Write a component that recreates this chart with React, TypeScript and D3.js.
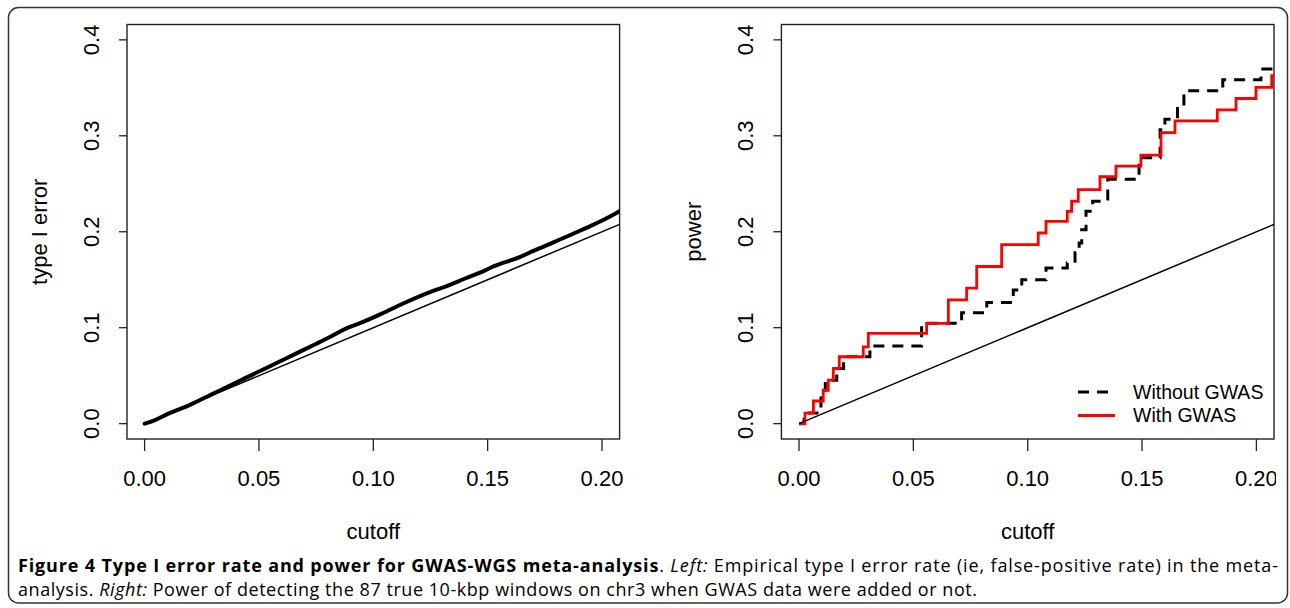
import React from 'react';
import * as d3 from 'd3';

// left panel: empirical type I error vs cutoff
const errCutoff = [0, 0.0043, 0.0104, 0.0194, 0.030, 0.0405, 0.0495, 0.0586, 0.0646, 0.0751, 0.0812, 0.0887, 0.0947, 0.1037, 0.1128, 0.1248, 0.1309, 0.1399, 0.1489, 0.1519, 0.164, 0.170, 0.179, 0.1911, 0.2031, 0.2077];
const errRate = [0, 0.0035, 0.0104, 0.0191, 0.0313, 0.0434, 0.0538, 0.0642, 0.0712, 0.0833, 0.0905, 0.0998, 0.1052, 0.1146, 0.125, 0.1372, 0.1424, 0.151, 0.1597, 0.1632, 0.1735, 0.1800, 0.1892, 0.2018, 0.2153, 0.2215];

// right panel: power, step curves
const withCutoff = [0, 0.0026, 0.0063, 0.0106, 0.0128, 0.0150, 0.0176, 0.0281, 0.0303, 0.0558, 0.0653, 0.0733, 0.0777, 0.0886, 0.1046, 0.108, 0.1173, 0.1192, 0.1221, 0.1316, 0.1386, 0.1495, 0.1583, 0.1644, 0.1829, 0.1911, 0.1998, 0.2067, 0.2077];
const withPower = [0, 0.011, 0.0236, 0.0348, 0.0453, 0.0575, 0.0697, 0.0801, 0.0941, 0.1046, 0.129, 0.1412, 0.1638, 0.1865, 0.1987, 0.2109, 0.2213, 0.2318, 0.244, 0.2573, 0.2684, 0.2799, 0.3033, 0.3155, 0.327, 0.3389, 0.3504, 0.3626, 0.3626];
const withoutCutoff = [0, 0.0022, 0.0096, 0.0115, 0.0165, 0.0195, 0.031, 0.0536, 0.0711, 0.0821, 0.0937, 0.0974, 0.108, 0.1173, 0.1207, 0.1225, 0.1236, 0.1255, 0.1284, 0.135, 0.1487, 0.1579, 0.160, 0.1655, 0.1683, 0.1853, 0.202, 0.2077];
const withoutPower = [0, 0.011, 0.0348, 0.0453, 0.0575, 0.0697, 0.0809, 0.1046, 0.1157, 0.1262, 0.1394, 0.1499, 0.1621, 0.1674, 0.178, 0.1883, 0.2022, 0.2213, 0.2318, 0.2546, 0.2772, 0.3062, 0.3173, 0.3285, 0.3469, 0.3584, 0.3696, 0.3696];

const diagonal = [0, 0.2077];

const xTicks = [0, 0.05, 0.1, 0.15, 0.2];
const yTicks = [0, 0.1, 0.2, 0.3, 0.4];

const legendLabels = ['Without GWAS', 'With GWAS'];

const W = 1290;
const H = 608;
const top = 24.5;
const bottom = 439;
const panelW = 492.6;
const font = 'Liberation Sans, Arial, Helvetica, sans-serif';

const Panel = ({ x0, ylab, children }) => {
  const x = d3.scaleLinear().domain([-0.0077, 0.2077]).range([x0, x0 + panelW]);
  const y = d3.scaleLinear().domain([-0.016, 0.416]).range([bottom, top]);
  return (
    <g>
      <rect x={x0} y={top} width={panelW} height={bottom - top} fill="none" stroke="#222" strokeWidth={1.4} />
      {xTicks.map(t => (
        <g key={'x' + t}>
          <line x1={x(t)} x2={x(t)} y1={bottom} y2={bottom + 12} stroke="#222" strokeWidth={1.3} />
          <text x={x(t)} y={486} textAnchor="middle" fontSize={22} fontFamily={font}>{t.toFixed(2)}</text>
        </g>
      ))}
      {yTicks.map(t => (
        <g key={'y' + t}>
          <line x1={x0 - 8} x2={x0} y1={y(t)} y2={y(t)} stroke="#222" strokeWidth={1.3} />
          <text transform={`translate(${x0 - 28},${y(t)}) rotate(-90)`} textAnchor="middle" fontSize={22} fontFamily={font}>{t.toFixed(1)}</text>
        </g>
      ))}
      <text x={x0 + panelW / 2} y={539} textAnchor="middle" fontSize={22} fontFamily={font}>cutoff</text>
      <text transform={`translate(${x0 - 80},${(top + bottom) / 2}) rotate(-90)`} textAnchor="middle" fontSize={22} fontFamily={font}>{ylab}</text>
      <defs>
        <clipPath id={'plot' + x0}>
          <rect x={x0} y={top} width={panelW} height={bottom - top} />
        </clipPath>
      </defs>
      <g clipPath={`url(#plot${x0})`}>{children(x, y)}</g>
    </g>
  );
};

export default function App() {
  const leftX0 = 127;
  const rightX0 = 781.4;

  return (
    <svg width={W} height={H} style={{ position: 'absolute', left: 0, top: 0, background: '#fff' }}>
      <rect x={8.5} y={7.5} width={1279} height={595.5} rx={10} fill="#fff" stroke="#333" strokeWidth={1.5} />
      <defs>
        <clipPath id="figcrop">
          <rect x={0} y={0} width={1276} height={550} />
        </clipPath>
      </defs>
      <g clipPath="url(#figcrop)">
        <Panel x0={leftX0} ylab="type I error">
          {(x, y) => {
            const line = d3.line().x(d => x(d[0])).y(d => y(d[1])).curve(d3.curveMonotoneX);
            return (
              <g>
                <path d={line(diagonal.map(v => [v, v]))} fill="none" stroke="#000" strokeWidth={1.5} />
                <path d={line(errCutoff.map((c, i) => [c, errRate[i]]))} fill="none" stroke="#000" strokeWidth={4} strokeLinejoin="round" strokeLinecap="round" />
              </g>
            );
          }}
        </Panel>
        <Panel x0={rightX0} ylab="power">
          {(x, y) => {
            const line = d3.line().x(d => x(d[0])).y(d => y(d[1]));
            const step = d3.line().x(d => x(d[0])).y(d => y(d[1])).curve(d3.curveStepAfter);
            return (
              <g>
                <path d={step(withoutCutoff.map((c, i) => [c, withoutPower[i]]))} fill="none" stroke="#000" strokeWidth={3} strokeDasharray="11 8" />
                <path d={step(withCutoff.map((c, i) => [c, withPower[i]]))} fill="none" stroke="#ff0000" strokeWidth={2.8} />
                <path d={line(diagonal.map(v => [v, v]))} fill="none" stroke="#000" strokeWidth={1.5} />
              </g>
            );
          }}
        </Panel>
        <g fontFamily={font} fontSize={19.5}>
          <line x1={1078} x2={1113} y1={392} y2={392} stroke="#000" strokeWidth={3} strokeDasharray="11 8" />
          <line x1={1078} x2={1115} y1={415.5} y2={415.5} stroke="#ff0000" strokeWidth={2.8} />
          <text x={1133} y={398.5}>{legendLabels[0]}</text>
          <text x={1133} y={422}>{legendLabels[1]}</text>
        </g>
      </g>
      <g fontFamily="'Open Sans', sans-serif" fontSize={18} fill="#000">
        <text x={18} y={572} textLength={1260} lengthAdjust="spacing">
          <tspan fontWeight="bold">Figure 4 Type I error rate and power for GWAS-WGS meta-analysis</tspan>
          <tspan>. </tspan>
          <tspan fontStyle="italic">Left:</tspan>
          <tspan> Empirical type I error rate (ie, false-positive rate) in the meta-</tspan>
        </text>
        <text x={18} y={596} textLength={959} lengthAdjust="spacing">
          <tspan>analysis. </tspan>
          <tspan fontStyle="italic">Right:</tspan>
          <tspan> Power of detecting the 87 true 10-kbp windows on chr3 when GWAS data were added or not.</tspan>
        </text>
      </g>
    </svg>
  );
}
